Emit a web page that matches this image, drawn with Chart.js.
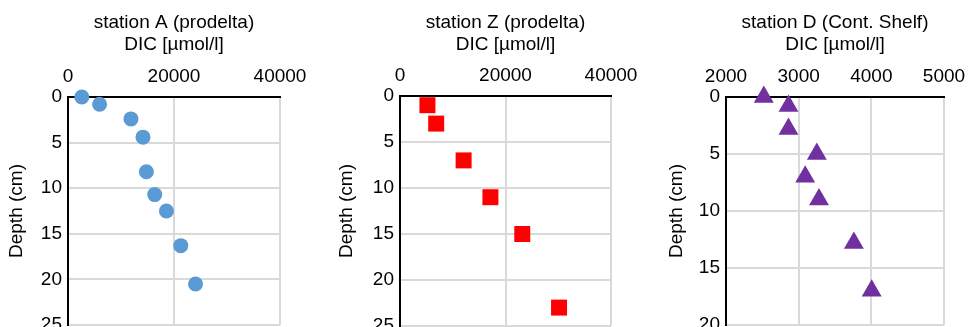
<!DOCTYPE html>
<html>
<head>
<meta charset="utf-8">
<script src="https://cdn.jsdelivr.net/npm/chart.js@4/dist/chart.umd.min.js"></script>
<style>
  html, body { margin: 0; padding: 0; background: #fff; overflow: hidden; width: 970px; height: 327px; }
  .panel { position: absolute; top: 0; }
</style>
</head>
<body>
<div class="panel" style="left:0px;width:316px;height:342px"><canvas id="chartA"></canvas></div>
<div class="panel" style="left:330px;width:317px;height:343px"><canvas id="chartZ"></canvas></div>
<div class="panel" style="left:660px;width:315px;height:342px"><canvas id="chartD"></canvas></div>
<script>
// station A (prodelta)
const dicA = [2610, 5960, 11880, 14150, 14790, 16360, 18570, 21280, 24060];
const depthA = [0, 0.8, 2.4, 4.4, 8.2, 10.7, 12.5, 16.3, 20.5];

// station Z (prodelta)
const dicZ = [5200, 6860, 12060, 17140, 23180, 30150];
const depthZ = [1, 3, 7, 11, 15, 23];

// station D (Cont. Shelf)
const dicD = [2520, 2860, 2860, 3250, 3090, 3280, 3760, 4005];
const depthD = [0, 0.8, 2.8, 5, 7, 9, 12.8, 17];

const titles = ['station A (prodelta)', 'station Z (prodelta)', 'station D (Cont. Shelf)'];
const unitLabel = 'DIC [µmol/l]';
const depthLabel = 'Depth (cm)';

const font = { family: "'Liberation Sans', Arial, sans-serif", size: 19, lineHeight: 1.15 };
const gridColor = '#d9d9d9';

function points(xs, ys) {
  return xs.map((x, i) => ({ x: x, y: ys[i] }));
}

function makeChart(id, opts) {
  new Chart(document.getElementById(id), {
    type: 'scatter',
    data: {
      datasets: [{
        data: points(opts.x, opts.y),
        pointStyle: opts.style,
        pointRadius: opts.radius,
        pointHoverRadius: opts.radius,
        backgroundColor: opts.color,
        borderColor: opts.color,
        borderWidth: 0,
        clip: false,
      }],
    },
    options: {
      responsive: true,
      maintainAspectRatio: false,
      animation: false,
      layout: { padding: { left: 0, top: 0, right: opts.padRight, bottom: 17 } },
      scales: {
        x: {
          position: 'top',
          min: opts.xMin,
          max: opts.xMax,
          ticks: {
            stepSize: opts.xStep,
            color: '#000',
            font: font,
            padding: 9,
            maxRotation: 0,
            callback: (v) => String(v),
          },
          grid: { color: gridColor, lineWidth: 2, drawTicks: false },
          border: { color: '#000', width: 2 },
          title: {
            display: true,
            text: [opts.title, unitLabel],
            color: '#000',
            font: font,
            padding: { top: 12, bottom: 0 },
          },
          afterFit: (scale) => { scale.height = opts.top; },
        },
        y: {
          reverse: true,
          min: 0,
          max: opts.yMax,
          ticks: { stepSize: 5, color: '#000', font: font, padding: 6 },
          grid: { color: gridColor, lineWidth: 2, drawTicks: false },
          border: { color: '#000', width: 2 },
          title: {
            display: true,
            text: depthLabel,
            color: '#000',
            font: font,
            padding: { top: 6, bottom: 0 },
          },
          afterFit: (scale) => { scale.width = opts.left; },
        },
      },
      plugins: {
        legend: { display: false },
        tooltip: { enabled: false },
      },
    },
  });
}

makeChart('chartA', {
  x: dicA, y: depthA, title: titles[0],
  style: 'circle', radius: 7.5, color: '#5b9bd5',
  xMin: 0, xMax: 40000, xStep: 20000, yMax: 25,
  left: 68, top: 97, padRight: 36,
});

makeChart('chartZ', {
  x: dicZ, y: depthZ, title: titles[1],
  style: 'rect', radius: 11.3, color: '#ff0000',
  xMin: 0, xMax: 40000, xStep: 20000, yMax: 25,
  left: 70, top: 96, padRight: 36,
});

makeChart('chartD', {
  x: dicD, y: depthD, title: titles[2],
  style: 'triangle', radius: 11.5, color: '#7030a0',
  xMin: 2000, xMax: 5000, xStep: 1000, yMax: 20,
  left: 66, top: 97, padRight: 31,
});
</script>
</body>
</html>
